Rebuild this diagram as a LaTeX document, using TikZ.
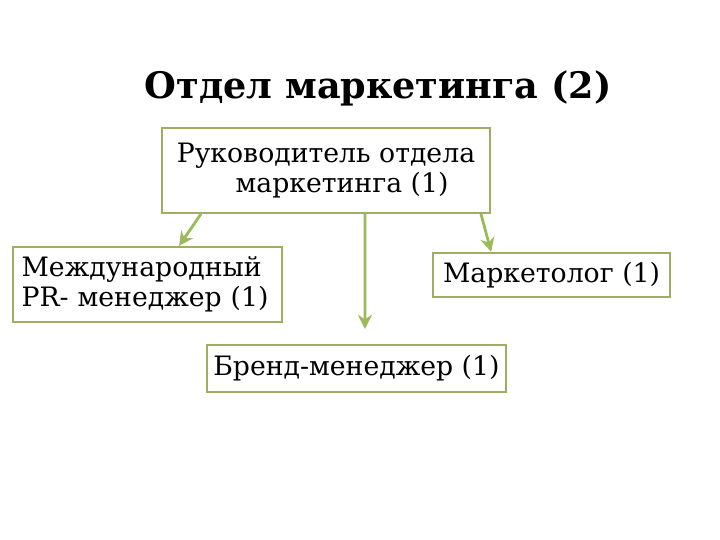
\documentclass[tikz,border=0pt]{standalone}
\usepackage{fontspec}
\setmainfont{DejaVu Serif}
\usetikzlibrary{arrows.meta}
\definecolor{boxgreen}{HTML}{A0AE62}
\definecolor{arrgreen}{HTML}{9BBB59}
\tikzset{
	box/.style={draw=boxgreen, line width=1.4pt, fill=white, inner sep=4pt, font=\fontsize{19}{21}\selectfont},
	arr/.style={draw=arrgreen, line width=2pt, -{Stealth[length=10pt,width=10pt]}}
}
\begin{document}
\begin{tikzpicture}
		\useasboundingbox[fill=white] (0,0) rectangle (18,13.5);

		\node[font=\fontsize{26}{30}\selectfont\bfseries] (title) at (9.45,11.3) {Отдел маркетинга (2)};

		\node[box, minimum width=8.2cm, minimum height=2.125cm, align=center] (head) at (8.15,9.24) {Руководитель отдела\\ \hspace{1.2em}маркетинга (1)};

		\node[box, minimum width=6.725cm, minimum height=1.875cm, align=left, text width=6.3cm] (pr) at (3.69,6.39) {Международный\\PR- менеджер (1)};
		\node[box, minimum width=5.925cm, minimum height=1.1cm] (mkt) at (13.79,6.63) {Маркетолог (1)};
		\node[box, minimum width=7.475cm, minimum height=1.175cm] (brand) at (8.91,4.29) {Бренд-менеджер (1)};

		\draw[arr] ([xshift=1cm]head.south west) -- ([xshift=4.175cm]pr.north west);
		\draw[arr] ([xshift=5.1cm]head.south west) -- ([xshift=3.975cm,yshift=0.375cm]brand.north west);
		\draw[arr] ([xshift=-0.25cm]head.south east) -- ([xshift=1.475cm]mkt.north west);
	\end{tikzpicture}
\end{document}
